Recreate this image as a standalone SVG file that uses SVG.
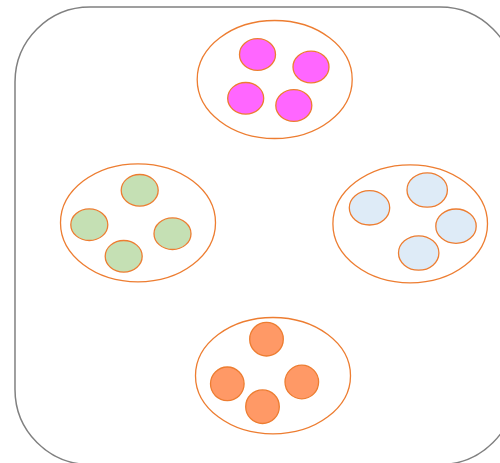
<svg xmlns="http://www.w3.org/2000/svg" width="500" height="463" viewBox="0 0 500 463">
<style>
.frame{fill:#ffffff;stroke:#808080;stroke-width:1.5}
.grp{fill:#ffffff;stroke:#ED7D31;stroke-width:1.3}
.dot{stroke:#ED7D31;stroke-width:1.3}
.pink{fill:#FF66FF}
.green{fill:#C5E0B4}
.blue{fill:#DEEBF7}
.orange{fill:#FF9966}
</style>
<rect class="frame" x="15" y="7" width="500" height="457.5" rx="75" ry="75"/>
<g id="group-top">
<ellipse class="grp" cx="274.7" cy="79.5" rx="77.5" ry="59"/>
<ellipse class="dot pink" cx="257.5" cy="54.5" rx="18" ry="15.8"/>
<ellipse class="dot pink" cx="311" cy="67" rx="18" ry="15.8"/>
<ellipse class="dot pink" cx="245.7" cy="98.3" rx="18" ry="15.8"/>
<ellipse class="dot pink" cx="293.8" cy="105.5" rx="18" ry="15.8"/>
</g>
<g id="group-left">
<ellipse class="grp" cx="138" cy="222.8" rx="77.5" ry="59"/>
<ellipse class="dot green" cx="139.7" cy="190.3" rx="18.5" ry="15.8"/>
<ellipse class="dot green" cx="89.3" cy="224.7" rx="18.5" ry="15.8"/>
<ellipse class="dot green" cx="172.5" cy="233.7" rx="18.5" ry="15.8"/>
<ellipse class="dot green" cx="123.7" cy="256.3" rx="18.5" ry="15.8"/>
</g>
<g id="group-right">
<ellipse class="grp" cx="410.2" cy="223.8" rx="77.3" ry="59"/>
<ellipse class="dot blue" cx="369.5" cy="207.8" rx="20.2" ry="17.2"/>
<ellipse class="dot blue" cx="427.2" cy="190" rx="20.2" ry="17.2"/>
<ellipse class="dot blue" cx="456" cy="226.2" rx="20.2" ry="17.2"/>
<ellipse class="dot blue" cx="418.7" cy="253" rx="20.2" ry="17.2"/>
</g>
<g id="group-bottom">
<ellipse class="grp" cx="273" cy="375.7" rx="77.5" ry="58.2"/>
<circle class="dot orange" cx="266.5" cy="339.2" r="16.8"/>
<circle class="dot orange" cx="227.3" cy="383.8" r="16.8"/>
<circle class="dot orange" cx="301.8" cy="382" r="16.8"/>
<circle class="dot orange" cx="262.5" cy="406.7" r="16.8"/>
</g>
<g id="connectors"/>
</svg>
